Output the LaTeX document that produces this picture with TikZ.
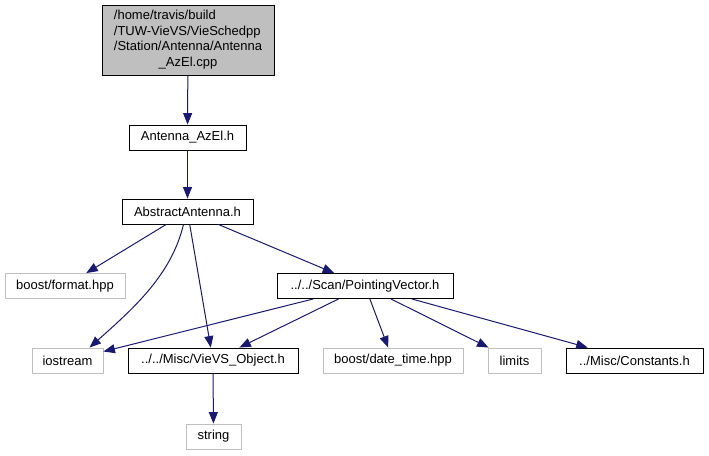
\documentclass[tikz,border=0pt]{standalone}
\usepackage{fontspec}
\setmainfont{Liberation Sans}
\usetikzlibrary{arrows.meta}
\definecolor{edgeblue}{HTML}{191970}
\definecolor{boxgray}{HTML}{BFBFBF}
\begin{document}
\begin{tikzpicture}[x=1pt, y=-1pt,
every node/.style={draw, font=\fontsize{13}{15.5}\selectfont, inner sep=0pt, minimum height=25pt, line width=0.9pt},
syshdr/.style={draw=boxgray},
incl/.style={draw=edgeblue, line width=1pt, -{Triangle[length=11.5pt,width=9pt]}}
]
\useasboundingbox (0,0) rectangle (709,455);
\node[fill=boxgray, minimum width=172pt, minimum height=70pt] (src) at (188,40)
{\begin{tabular}{@{}l@{}}/home/travis/build\\/TUW-VieVS/VieSchedpp\\/Station/Antenna/Antenna\\\multicolumn{1}{@{}c@{}}{\_AzEl.cpp}\end{tabular}};
\node[minimum width=117pt] (azel) at (187.5,137.5) {Antenna\_AzEl.h};
\node[minimum width=131pt] (abs) at (187.5,211.5) {AbstractAntenna.h};
\node[syshdr, minimum width=120pt] (fmt) at (65,286) {boost/format.hpp};
\node[minimum width=176pt] (pv) at (365,286) {../../Scan/PointingVector.h};
\node[syshdr, minimum width=71pt] (ios) at (67.5,360.5) {iostream};
\node[minimum width=170pt] (obj) at (213,360.5) {../../Misc/VieVS\_Object.h};
\node[syshdr, minimum width=140pt] (dt) at (393,360.5) {boost/date\_time.hpp};
\node[syshdr, minimum width=53pt] (lim) at (514.5,360.5) {limits};
\node[minimum width=137pt] (cst) at (634.5,360.5) {../Misc/Constants.h};
\node[syshdr, minimum width=55pt] (str) at (213.5,436.5) {string};
% include edges
\draw[incl] (src) -- (azel);
\draw[incl] (azel) -- (abs);
\draw[incl] (abs) -- (fmt);
\draw[incl] ([xshift=-4pt]abs.south) .. controls +(-12,50) and +(45,-40) .. ([xshift=22pt]ios.north);
\draw[incl] (abs) -- (obj);
\draw[incl] (abs) -- (pv);
\draw[incl] (pv) -- (ios);
\draw[incl] (pv) -- (obj);
\draw[incl] (pv) -- (dt);
\draw[incl] (pv) -- (lim);
\draw[incl] (pv) -- (cst);
\draw[incl] (obj) -- (str);
\end{tikzpicture}
\end{document}
